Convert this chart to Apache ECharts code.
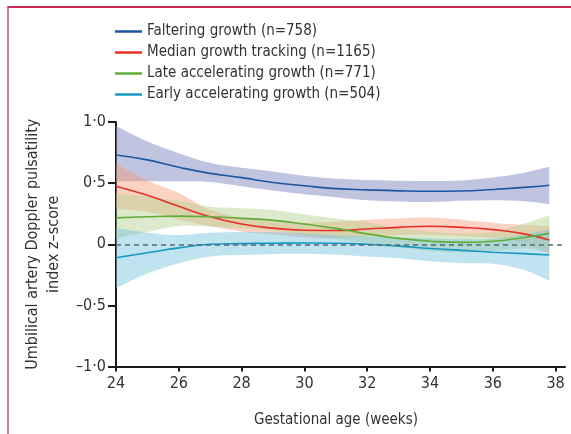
<!DOCTYPE html>
<html>
<head>
<meta charset="utf-8">
<script src="https://cdn.jsdelivr.net/npm/echarts@6/dist/echarts.min.js"></script>
<style>
html,body{margin:0;padding:0;background:#fff;}
#frame{position:absolute;left:7px;top:6px;width:564px;height:428px;border-left:2px solid #e27597;border-top:2px solid #c8284e;box-sizing:border-box;}
#chart{position:absolute;left:0;top:0;width:571px;height:434px;}
</style>
</head>
<body>
<div id="frame"></div>
<div id="chart"></div>
<script>
// Gestational age (weeks)
const weeks = [24, 25, 26, 27, 28, 29, 30, 31, 32, 33, 34, 35, 36, 37, 37.8];

const seriesNames = [
  'Faltering growth (n=758)',
  'Median growth tracking (n=1165)',
  'Late accelerating growth (n=771)',
  'Early accelerating growth (n=504)'
];

// Faltering growth
const falteringMean  = [0.73, 0.69, 0.63, 0.58, 0.545, 0.505, 0.478, 0.455, 0.445, 0.437, 0.433, 0.435, 0.448, 0.465, 0.483];
const falteringUpper = [0.97, 0.84, 0.745, 0.665, 0.625, 0.595, 0.56, 0.535, 0.525, 0.52, 0.518, 0.522, 0.545, 0.585, 0.633];
const falteringLower = [0.515, 0.515, 0.515, 0.51, 0.475, 0.44, 0.41, 0.385, 0.36, 0.35, 0.345, 0.355, 0.36, 0.352, 0.328];

// Median growth tracking
const medianMean  = [0.475, 0.40, 0.31, 0.225, 0.165, 0.132, 0.115, 0.112, 0.125, 0.138, 0.147, 0.138, 0.12, 0.085, 0.034];
const medianUpper = [0.66, 0.52, 0.42, 0.28, 0.22, 0.185, 0.175, 0.185, 0.2, 0.211, 0.218, 0.2, 0.175, 0.157, 0.149];
const medianLower = [0.29, 0.265, 0.2, 0.148, 0.105, 0.08, 0.055, 0.048, 0.065, 0.075, 0.078, 0.068, 0.05, 0.01, -0.088];

// Late accelerating growth
const lateMean  = [0.216, 0.225, 0.23, 0.225, 0.212, 0.195, 0.165, 0.13, 0.085, 0.048, 0.025, 0.015, 0.025, 0.055, 0.089];
const lateUpper = [0.415, 0.39, 0.355, 0.306, 0.295, 0.28, 0.245, 0.21, 0.18, 0.13, 0.105, 0.09, 0.1, 0.17, 0.238];
const lateLower = [0.048, 0.1, 0.15, 0.143, 0.13, 0.112, 0.075, 0.045, 0.01, -0.02, -0.055, -0.068, -0.055, -0.035, -0.06];

// Early accelerating growth
const earlyMean  = [-0.11, -0.07, -0.03, 0.0, 0.005, 0.008, 0.01, 0.008, 0.0, -0.015, -0.035, -0.05, -0.065, -0.077, -0.088];
const earlyUpper = [0.13, 0.095, 0.075, 0.094, 0.1, 0.1, 0.09, 0.075, 0.065, 0.055, 0.05, 0.04, 0.045, 0.08, 0.122];
const earlyLower = [-0.36, -0.24, -0.155, -0.1, -0.088, -0.08, -0.078, -0.085, -0.1, -0.115, -0.14, -0.155, -0.16, -0.21, -0.298];

const xTicks = [24, 26, 28, 30, 32, 34, 36, 38];

const lineColors = ['#1d57a0', '#e8302a', '#62ad3a', '#1798c2'];
const bandColors = ['rgba(128,138,196,0.5)', 'rgba(247,150,112,0.42)', 'rgba(178,206,140,0.45)', 'rgba(122,196,222,0.48)'];

const groups = [
  [falteringMean, falteringUpper, falteringLower],
  [medianMean, medianUpper, medianLower],
  [lateMean, lateUpper, lateLower],
  [earlyMean, earlyUpper, earlyLower]
];

const FONT = "'Liberation Sans Narrow', 'DejaVu Sans Condensed', 'Noto Sans', sans-serif";

// smooth path segment through pixel points (Catmull-Rom -> Bezier)
function smoothSeg(pts, path, moveFirst) {
  const n = pts.length;
  path.push((moveFirst ? 'M' : 'L') + pts[0][0] + ',' + pts[0][1]);
  for (let i = 0; i < n - 1; i++) {
    const p0 = pts[Math.max(i - 1, 0)], p1 = pts[i], p2 = pts[i + 1], p3 = pts[Math.min(i + 2, n - 1)];
    const c1x = p1[0] + (p2[0] - p0[0]) / 6, c1y = p1[1] + (p2[1] - p0[1]) / 6;
    const c2x = p2[0] - (p3[0] - p1[0]) / 6, c2y = p2[1] - (p3[1] - p1[1]) / 6;
    path.push('C' + c1x + ',' + c1y + ' ' + c2x + ',' + c2y + ' ' + p2[0] + ',' + p2[1]);
  }
}

const series = [];
groups.forEach(function (g, i) {
  series.push({
    name: 'band-' + i, type: 'custom', silent: true, z: 1,
    data: weeks.map(function (w, k) { return [w, g[2][k], g[1][k]]; }),
    encode: { x: 0, y: [1, 2] },
    renderItem: function (params, api) {
      if (params.dataIndexInside !== 0) return null;
      const n = params.dataInsideLength;
      const up = [], lo = [];
      for (let k = 0; k < n; k++) {
        const x = api.value(0, k);
        up.push(api.coord([x, api.value(2, k)]));
        lo.push(api.coord([x, api.value(1, k)]));
      }
      lo.reverse();
      const path = [];
      smoothSeg(up, path, true);
      smoothSeg(lo, path, false);
      path.push('Z');
      return {
        type: 'path',
        shape: { pathData: path.join(' ') },
        style: { fill: bandColors[i], stroke: null }
      };
    }
  });
});
groups.forEach(function (g, i) {
  const s = {
    name: seriesNames[i], type: 'line',
    data: weeks.map(function (w, k) { return [w, g[0][k]]; }),
    smooth: true, showSymbol: false,
    lineStyle: { color: lineColors[i], width: 1.6 },
    itemStyle: { color: lineColors[i] }, z: 3
  };
  if (i === 0) {
    s.markLine = {
      silent: true, symbol: 'none', animation: false,
      label: { show: false },
      lineStyle: { color: '#5a6a74', width: 1.5, type: [5, 4] },
      data: [{ yAxis: 0 }]
    };
  }
  series.push(s);
});

const chart = echarts.init(document.getElementById('chart'), null, { renderer: 'canvas' });
chart.setOption({
  animation: false,
  backgroundColor: 'transparent',
  textStyle: { fontFamily: FONT },
  legend: {
    data: seriesNames,
    orient: 'vertical', left: 110, top: 19,
    icon: 'rect', itemWidth: 27, itemHeight: 2.5, itemGap: 6,
    textStyle: { fontFamily: FONT, fontSize: 15, color: '#333' }
  },
  grid: { left: 116, right: 6, top: 122, bottom: 67.5, containLabel: false },
  xAxis: {
    type: 'value', min: 24, max: 38.3,
    name: 'Gestational age (weeks)', nameLocation: 'middle', nameGap: 46,
    nameTextStyle: { fontFamily: FONT, fontSize: 15, color: '#333', padding: [0, 9, 0, 0] },
    axisLine: { onZero: false, lineStyle: { color: '#1a1a1a', width: 2 } },
    axisTick: { customValues: xTicks, length: 5, lineStyle: { color: '#1a1a1a', width: 2 } },
    axisLabel: { customValues: xTicks, fontFamily: FONT, fontSize: 16, color: '#333', margin: 9 },
    splitLine: { show: false }
  },
  yAxis: {
    type: 'value', min: -1, max: 1, interval: 0.5,
    name: 'Umbilical artery Doppler pulsatility\nindex z\u2013score',
    nameLocation: 'middle', nameGap: 52, nameRotate: 90,
    nameTextStyle: { fontFamily: FONT, fontSize: 16, color: '#333', lineHeight: 21 },
    axisLine: { onZero: false, lineStyle: { color: '#1a1a1a', width: 2 } },
    axisTick: { length: 8, lineStyle: { color: '#1a1a1a', width: 2 } },
    axisLabel: {
      fontFamily: FONT, fontSize: 16, color: '#333', margin: 10,
      formatter: function (v) {
        if (v === 0) return '0';
        return v.toFixed(1).replace('-', '\u2013').replace('.', '\u00b7');
      }
    },
    splitLine: { show: false }
  },
  series: series
});
</script>
</body>
</html>
